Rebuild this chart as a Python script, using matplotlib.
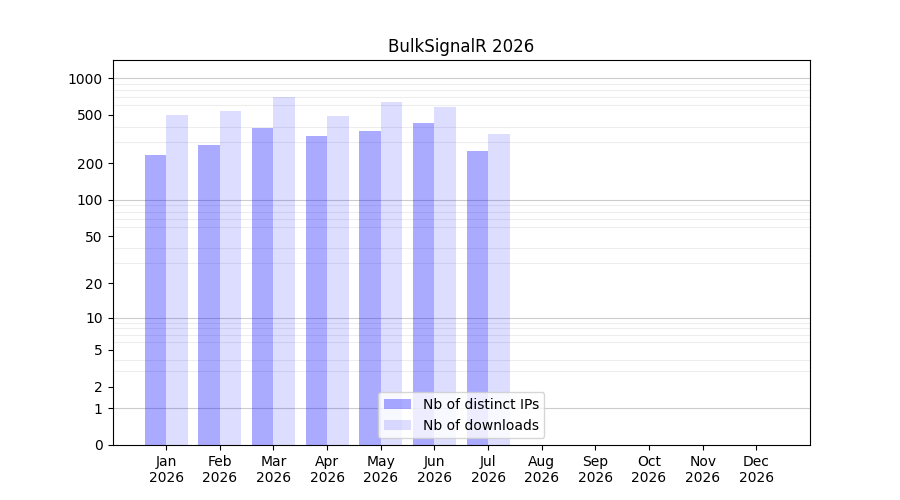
import numpy as np
from matplotlib import pyplot as plt
from matplotlib.ticker import FixedLocator

# Monthly download stats
months = ["Jan", "Feb", "Mar", "Apr", "May", "Jun",
          "Jul", "Aug", "Sep", "Oct", "Nov", "Dec"]
year = 2026
distinct_ips = [236, 285, 392, 337, 371, 431, 254]
downloads = [502, 541, 704, 492, 641, 583, 350]
ytick_values = [0, 1, 2, 5, 10, 20, 50, 100, 200, 500, 1000]

fig, ax = plt.subplots(figsize=(9, 5), dpi=100)

# log(1 + y) axis so zero can be shown
ax.set_yscale('function', functions=(lambda y: np.log10(1 + np.clip(y, 0, None)),
                                     lambda y: 10 ** y - 1))

x = np.arange(1, len(distinct_ips) + 1)
width = 0.4
ax.bar(x - width / 2, distinct_ips, width, color='blue', alpha=0.333,
       label="Nb of distinct IPs")
ax.bar(x + width / 2, downloads, width, color='blue', alpha=0.133,
       label="Nb of downloads")

ax.set_xlim(0, 13)
ax.set_ylim(0, 2 * max(downloads))

ax.set_xticks(np.arange(1, 13))
ax.set_xticklabels([f"{m}\n{year}" for m in months])
ax.set_yticks(ytick_values)
ax.set_yticklabels([str(v) for v in ytick_values])

# light lines at every integer step within a decade, darker at decades
minor = [m * 10 ** k for k in range(0, 4) for m in range(2, 10)]
ax.yaxis.set_minor_locator(FixedLocator(minor))
ax.tick_params(axis='y', which='minor', length=0)
ax.grid(axis='y', which='minor', color='k', alpha=0.07, linewidth=0.8)
for d in [1, 10, 100, 1000]:
    ax.axhline(d, color='k', alpha=0.2, linewidth=0.8, zorder=0.5)
ax.set_axisbelow(True)

ax.set_title(f"BulkSignalR {year}")
ax.legend(loc='lower center')

plt.savefig("out.png")
